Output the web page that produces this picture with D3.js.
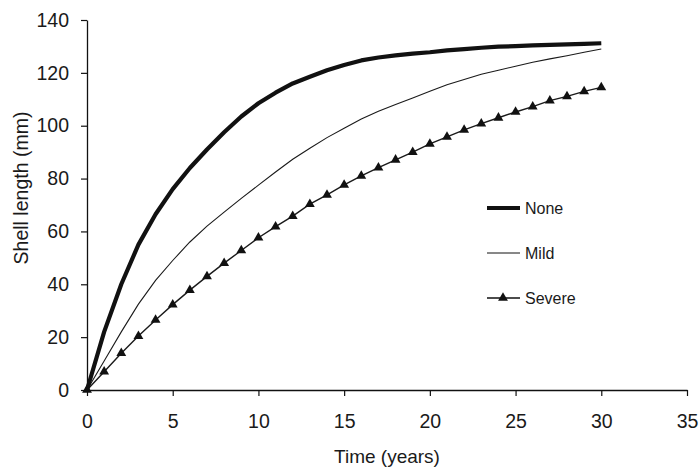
<!DOCTYPE html>
<html>
<head>
<meta charset="utf-8">
<script src="https://cdn.jsdelivr.net/npm/d3@7"></script>
<style>
  body { margin: 0; background: #fff; }
  svg { display: block; font-family: "Liberation Sans", Arial, sans-serif; }
</style>
</head>
<body>
<svg id="chart" width="700" height="467"></svg>
<script>
// data
var years = d3.range(0, 31);
var noneLen = [0, 22, 40, 55, 66.5, 76, 84, 91, 97.5, 103.5, 108.5, 112.5, 116, 118.5, 121, 123,
  124.7, 125.8, 126.6, 127.3, 127.8, 128.5, 129, 129.5, 129.9, 130.1, 130.4, 130.6, 130.8, 131, 131.2];
var mildLen = [0, 11, 22, 32.5, 41.5, 49, 56, 62, 67.3, 72.5, 77.5, 82.5, 87.3, 91.5, 95.5, 99,
  102.5, 105.5, 108, 110.5, 113, 115.5, 117.5, 119.5, 121, 122.5, 124, 125.3, 126.5, 127.8, 129];
var severeLen = [0, 6.9, 13.9, 20.4, 26.5, 32.3, 37.8, 43, 48, 52.8, 57.6, 61.8, 65.8, 70.3, 73.8, 77.6,
  81, 84.1, 87.1, 90, 93.1, 95.8, 98.4, 100.8, 103, 105.2, 107.2, 109.5, 111.1, 113, 114.5];
var xTicks = [0, 5, 10, 15, 20, 25, 30, 35];
var yTicks = [0, 20, 40, 60, 80, 100, 120, 140];
var seriesNames = ["None", "Mild", "Severe"];

var svg = d3.select("#chart");
var x = d3.scaleLinear().domain([0, 35]).range([87, 687]);
var y = d3.scaleLinear().domain([0, 140]).range([390, 20]);

var xAxis = svg.append("g")
    .attr("transform", "translate(0," + y(0) + ")")
    .call(d3.axisBottom(x).tickValues(xTicks).tickSize(6).tickSizeOuter(0).tickPadding(18));
var yAxis = svg.append("g")
    .attr("transform", "translate(" + x(0) + ",0)")
    .call(d3.axisLeft(y).tickValues(yTicks).tickSize(6).tickSizeOuter(0).tickPadding(12));

[xAxis, yAxis].forEach(function(g){
  g.select(".domain").attr("stroke", "#111").attr("stroke-width", 1.3);
  g.selectAll(".tick line").attr("stroke", "#111").attr("stroke-width", 1.2);
  g.selectAll(".tick text").attr("fill", "#1a1a1a").style("font-size", "19.5px")
    .style("font-family", "'Liberation Sans', Arial, sans-serif");
});

svg.append("text")
   .attr("x", x(17.5)).attr("y", 463)
   .attr("text-anchor", "middle")
   .attr("fill", "#1a1a1a")
   .style("font-size", "19px")
   .text("Time (years)");

svg.append("text")
   .attr("transform", "translate(28,188) rotate(-90)")
   .attr("text-anchor", "middle")
   .attr("fill", "#1a1a1a")
   .style("font-size", "19.5px")
   .text("Shell length (mm)");

var line = d3.line()
    .x(function(d, i){ return x(years[i]); })
    .y(function(d){ return y(d); });

svg.append("path").datum(mildLen)
   .attr("d", line).attr("fill", "none")
   .attr("stroke", "#1a1a1a").attr("stroke-width", 1.1);

svg.append("path").datum(severeLen)
   .attr("d", line).attr("fill", "none")
   .attr("stroke", "#1a1a1a").attr("stroke-width", 1.4);

var tri = d3.symbol().type(d3.symbolTriangle).size(42);
svg.selectAll("path.marker").data(severeLen).enter()
   .append("path")
   .attr("class", "marker")
   .attr("d", tri)
   .attr("transform", function(d, i){ return "translate(" + x(years[i]) + "," + y(d) + ")"; })
   .attr("fill", "#111");

svg.append("path").datum(noneLen)
   .attr("d", line).attr("fill", "none")
   .attr("stroke", "#111").attr("stroke-width", 4.2)
   .attr("stroke-linejoin", "round");

// legend
var legendY = [208, 253, 298];
var legend = svg.append("g");
legendY.forEach(function(ly, i){
  var g = legend.append("g").attr("transform", "translate(487," + ly + ")");
  g.append("line").attr("x1", 0).attr("x2", 33).attr("y1", 0).attr("y2", 0)
   .attr("stroke", "#111").attr("stroke-width", i == 0 ? 4 : (i == 1 ? 1 : 1.3));
  if(i == 2){
    g.append("path").attr("d", tri).attr("transform", "translate(16,0)").attr("fill", "#111");
  }
  g.append("text").attr("x", 38).attr("y", 6)
   .attr("fill", "#1a1a1a").style("font-size", "16px")
   .text(seriesNames[i]);
});
</script>
</body>
</html>
